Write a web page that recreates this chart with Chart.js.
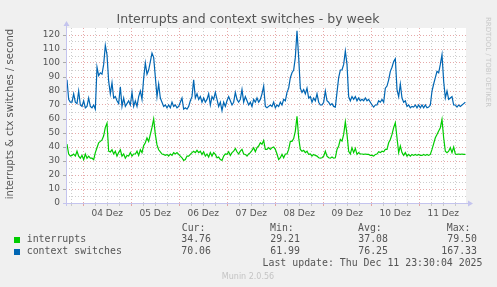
<!DOCTYPE html>
<html>
<head>
<meta charset="utf-8">
<script src="https://cdn.jsdelivr.net/npm/chart.js@4.4.1/dist/chart.umd.min.js"></script>
<style>
html, body { margin: 0; padding: 0; background: #f0f0f0; }
canvas { display: block; }
</style>
</head>
<body>
<canvas id="chart" width="497" height="287"></canvas>
<script>
// Werte alle 50 Minuten, ab Do 03.12. ~15:50
const interrupts = [
    42, 35, 33.5, 34, 35, 33.5, 37, 33.5, 32, 34,
    31, 35, 32, 33.5, 32, 32, 31, 36, 39.5, 43,
    44, 45, 48, 54, 57, 37, 36.5, 38, 35, 37,
    33.5, 36, 38, 33.5, 35, 32, 34, 33.5, 36, 33.5,
    35, 35, 37, 34, 38, 36, 41, 43, 46.5, 44,
    49, 54, 60, 49, 41.5, 38, 36.5,
    35, 34.7, 34, 34.7, 33.5, 35, 34, 36, 35, 36,
    34.7, 33.5, 32.3, 30.4, 31, 33.5, 33.5, 34.7, 36, 37,
    36, 37.6, 36, 37, 34.7, 36.6, 33.5, 35, 32.8, 36,
    33.5, 36, 34.7, 32.3, 32.8, 31, 30.4, 33.5, 35, 34.7,
    36.6, 34, 36, 37, 39, 36.6, 35, 37, 38.3, 35,
    34.7, 33.5, 35, 36, 37.6, 39.5, 36.6, 39.5, 40.7, 43,
    42, 44.7, 38.3, 38.3, 39.5, 38.3, 39.5, 40, 38.3, 35,
    31, 32.3, 34.7, 32.3, 35, 35, 38.3, 44, 44, 46,
    51.4, 62, 46.6, 38.3, 37, 37.6, 36, 37, 34.7, 35,
    33.5, 34.7, 34, 33.5, 32.3, 32, 32.3, 33.5, 37, 33.5,
    32.3, 32, 32.8, 32, 32.3, 38.3, 40.7, 45.4, 44.2, 49,
    58, 49, 37, 35, 39.5, 36, 39, 34.7, 36, 35,
    35, 34.7, 35, 34.7, 34.7, 34, 34, 33.5, 34.7, 35,
    36.6, 36, 37, 36.6, 38.3, 38.3, 43, 45.4, 49, 53.8,
    57.3, 46.6, 36, 40.7, 36, 34, 36, 33.5, 34.7, 33.5,
    34.7, 34, 34.7, 34, 34.7, 34, 34, 34.7, 34, 34.7,
    34, 34.7, 38.3, 42.4, 46.6, 49, 51.4, 53.8, 59.7, 46.6,
    37, 36, 37, 39.5, 36, 40, 35, 34.7, 35, 34.7,
    35, 34.7, 34.7
];

const contextSwitches = [
    88, 74, 72, 72, 78, 72, 71, 80, 70, 69,
    73, 68, 69, 75, 69, 68, 70, 67, 97, 91,
    93, 92, 99, 112.5, 106, 87, 78, 86, 75, 76,
    73, 71, 83, 69, 75, 69, 71, 73, 70, 79,
    69, 73, 69, 76, 80, 74, 89, 100, 92, 95,
    101, 107, 104, 90, 76, 85, 75,
    72, 69, 70, 68, 70, 68, 72, 69, 70, 68,
    69, 72, 75, 67, 68, 67, 69, 73, 76, 88,
    75, 78, 74, 76, 72, 75, 72, 74, 78, 70,
    76, 74, 79, 74, 69, 72, 66, 72, 69, 73,
    76, 73, 70, 72, 79, 74, 72, 74, 81, 72,
    76, 73, 70, 72, 69, 74, 72, 75, 72, 74,
    78, 83.5, 69, 68, 69, 70, 69, 72, 68, 70,
    69, 72, 70, 74, 73, 79, 82, 89.5, 93, 95,
    104, 123, 104, 82, 79, 81, 78, 82, 75, 76,
    72, 75, 73, 78, 72, 70, 70, 72, 80, 73,
    72, 70, 71, 69, 68.5, 79, 89.5, 95, 95, 99,
    108.5, 99, 76, 73, 76, 74, 76, 73, 75, 73,
    74, 73, 75, 73, 74, 72, 70, 68.5, 70, 70,
    73, 72, 74, 72, 82, 83.5, 88, 94, 97, 101,
    103, 81, 76, 85, 75, 72, 73, 69, 70, 68,
    69, 68.5, 70, 68, 70, 68, 70, 68, 70, 68,
    68.5, 70, 80, 85, 89.5, 94, 93, 99, 106, 87,
    75, 80, 74, 75, 76, 70, 70, 68.5, 70, 69,
    70, 71, 72
];

const dayLabels = ['04 Dez', '05 Dez', '06 Dez', '07 Dez', '08 Dez', '09 Dez', '10 Dez', '11 Dez'];
const yTicks = [0, 10, 20, 30, 40, 50, 60, 70, 80, 90, 100, 110, 120];

// Zeit in Stunden relativ zu 04.12. 00:00
const firstHour = -8.15;
const stepHours = 50 / 60;
const rangeHours = [-8.65, 191.35];

const legendRows = [
    { name: 'interrupts', color: '#00cc00', cur: '34.76', min: '29.21', avg: '37.08', max: '79.50' },
    { name: 'context switches', color: '#0066b3', cur: '70.06', min: '61.99', avg: '76.25', max: '167.33' }
];
const lastUpdate = 'Last update: Thu Dec 11 23:30:04 2025';

const toPoints = arr => arr.map((v, i) => ({ x: firstHour + i * stepHours, y: v }));

const majorGrid = 'rgba(222, 140, 140, 0.75)';
const minorGrid = 'rgba(190, 190, 190, 0.75)';
const axisColor = '#c4c4ee';
const textColor = '#555555';

const munin = {
    id: 'munin',
    beforeDraw(chart) {
        const { ctx, chartArea: a } = chart;
        ctx.save();
        ctx.fillStyle = '#f0f0f0';
        ctx.fillRect(0, 0, chart.width, chart.height);
        ctx.fillStyle = '#ffffff';
        ctx.fillRect(a.left, a.top, a.right - a.left, a.bottom - a.top);
        ctx.restore();
    },
    afterDraw(chart) {
        const { ctx, chartArea: a } = chart;
        ctx.save();

        // Achsen mit Pfeilen
        ctx.strokeStyle = axisColor;
        ctx.fillStyle = axisColor;
        ctx.lineWidth = 1;
        ctx.beginPath();
        ctx.moveTo(a.left + 0.5, a.bottom + 3);
        ctx.lineTo(a.left + 0.5, a.top - 3);
        ctx.moveTo(a.left - 3, a.bottom + 0.5);
        ctx.lineTo(a.right + 3, a.bottom + 0.5);
        ctx.stroke();
        ctx.beginPath();
        ctx.moveTo(a.left - 2.5, a.top - 2);
        ctx.lineTo(a.left + 3.5, a.top - 2);
        ctx.lineTo(a.left + 0.5, a.top - 7);
        ctx.closePath();
        ctx.fill();
        ctx.beginPath();
        ctx.moveTo(a.right + 2, a.bottom - 2.5);
        ctx.lineTo(a.right + 2, a.bottom + 3.5);
        ctx.lineTo(a.right + 7, a.bottom + 0.5);
        ctx.closePath();
        ctx.fill();

        // Titel
        ctx.fillStyle = textColor;
        ctx.font = '12.5px "DejaVu Sans"';
        ctx.textAlign = 'center';
        ctx.textBaseline = 'middle';
        ctx.fillText('Interrupts and context switches - by week', 248, 20);

        // Y-Achsentitel
        ctx.save();
        ctx.translate(10.5, 114);
        ctx.rotate(-Math.PI / 2);
        ctx.font = '10px "DejaVu Sans"';
        ctx.fillText('interrupts & ctx switches / second', 0, 0);
        ctx.restore();

        // RRDtool-Vermerk
        ctx.save();
        ctx.translate(487.5, 62);
        ctx.rotate(Math.PI / 2);
        ctx.fillStyle = '#c8c8c8';
        ctx.font = '7px "DejaVu Sans"';
        ctx.fillText('RRDTOOL / TOBI OETIKER', 0, 0);
        ctx.restore();

        // Legende
        ctx.font = '9.9px "DejaVu Sans Mono"';
        ctx.textAlign = 'left';
        ctx.fillStyle = textColor;
        ctx.fillText('Cur:', 181.7, 228.5);
        ctx.fillText('Min:', 270, 228.5);
        ctx.fillText('Avg:', 358, 228.5);
        ctx.fillText('Max:', 446.7, 228.5);
        legendRows.forEach((r, i) => {
            const y = 239.5 + i * 12;
            ctx.fillStyle = r.color;
            ctx.fillRect(14, y - 2.5, 6, 6);
            ctx.fillStyle = textColor;
            ctx.textAlign = 'left';
            ctx.fillText(r.name, 26.7, y);
            ctx.textAlign = 'right';
            ctx.fillText(r.cur, 211, y);
            ctx.fillText(r.min, 300, y);
            ctx.fillText(r.avg, 388, y);
            ctx.fillText(r.max, 477, y);
        });
        ctx.textAlign = 'right';
        ctx.fillText(lastUpdate, 482.5, 263.5);

        ctx.textAlign = 'center';
        ctx.fillStyle = '#c4c4c4';
        ctx.font = '8px "DejaVu Sans"';
        ctx.fillText('Munin 2.0.56', 248, 276.5);

        ctx.restore();
    }
};

const ctx = document.getElementById('chart').getContext('2d');
new Chart(ctx, {
    type: 'line',
    data: {
        datasets: [{
            label: 'interrupts',
            data: toPoints(interrupts),
            borderColor: '#00cc00',
            borderWidth: 1.2,
            pointRadius: 0,
            tension: 0
        }, {
            label: 'context switches',
            data: toPoints(contextSwitches),
            borderColor: '#0066b3',
            borderWidth: 1.2,
            pointRadius: 0,
            tension: 0
        }]
    },
    options: {
        responsive: false,
        animation: false,
        events: [],
        layout: { padding: { left: 0, top: 28, right: 31, bottom: 64 } },
        plugins: {
            legend: { display: false },
            title: { display: false },
            tooltip: { enabled: false }
        },
        scales: {
            x: {
                type: 'linear',
                min: rangeHours[0],
                max: rangeHours[1],
                afterFit: s => { s.height = 20; },
                afterBuildTicks: s => {
                    const t = [];
                    for (let h = -6; h < rangeHours[1]; h += 6) t.push({ value: h });
                    s.ticks = t;
                },
                border: { display: false, dash: [1, 2] },
                grid: {
                    color: c => (c.tick && c.tick.value % 24 === 0) ? majorGrid : minorGrid,
                    tickColor: c => (c.tick && c.tick.value % 24 === 0) ? majorGrid : minorGrid,
                    tickLength: 3,
                    lineWidth: 1
                },
                ticks: {
                    autoSkip: false,
                    maxRotation: 0,
                    padding: 2,
                    color: textColor,
                    font: { family: 'DejaVu Sans', size: 9 },
                    callback: v => {
                        if (((v % 24) + 24) % 24 !== 12) return '';
                        return dayLabels[Math.floor(v / 24)] || '';
                    }
                }
            },
            y: {
                min: 0,
                max: 125,
                afterFit: s => { s.width = 66; },
                afterBuildTicks: s => {
                    const t = [];
                    for (let v = 0; v <= 120; v += 5) t.push({ value: v });
                    s.ticks = t;
                },
                border: { display: false, dash: [1, 2] },
                grid: {
                    color: c => (c.tick && c.tick.value % 10 === 0) ? majorGrid : minorGrid,
                    tickColor: c => (c.tick && c.tick.value % 10 === 0) ? '#aaaaaa' : 'rgba(0,0,0,0)',
                    tickLength: 3,
                    lineWidth: 1
                },
                ticks: {
                    autoSkip: false,
                    padding: 3,
                    color: textColor,
                    font: { family: 'DejaVu Sans', size: 9 },
                    callback: v => yTicks.includes(v) ? String(v) : ''
                }
            }
        }
    },
    plugins: [munin]
});
</script>
</body>
</html>
